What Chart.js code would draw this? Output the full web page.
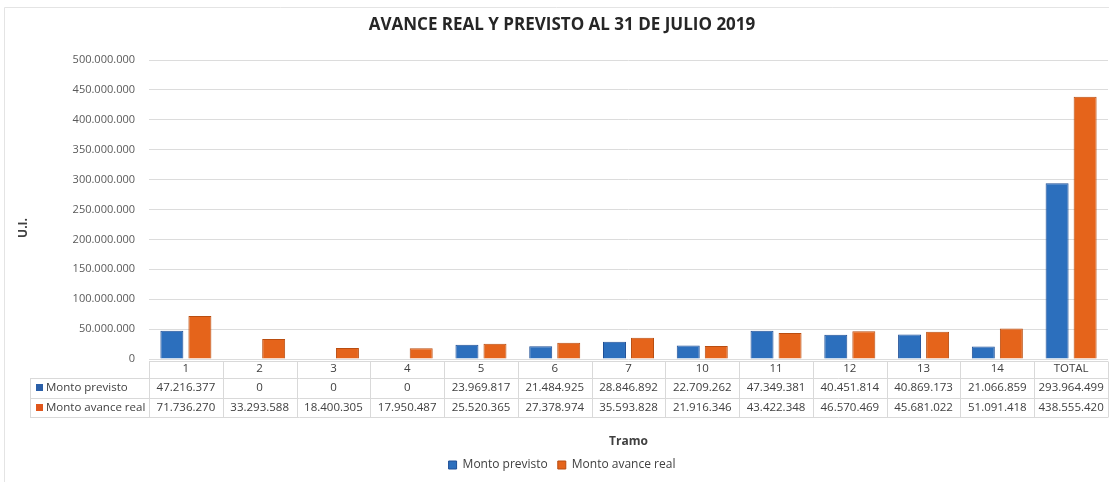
<!DOCTYPE html>
<html><head><meta charset="utf-8">
<script src="https://cdn.jsdelivr.net/npm/chart.js@4/dist/chart.umd.min.js"></script>
<style>html,body{margin:0;padding:0;background:#fff}</style>
</head><body>
<canvas id="c" width="1109" height="482"></canvas>
<script>
const chartTitle = 'AVANCE REAL Y PREVISTO AL 31 DE JULIO 2019';
const xTitle = 'Tramo';
const yTitle = 'U.I.';
const categories = ['1','2','3','4','5','6','7','10','11','12','13','14','TOTAL'];
const seriesNames = ['Monto previsto','Monto avance real'];
const montoPrevisto = [47216377, 0, 0, 0, 23969817, 21484925, 28846892, 22709262, 47349381, 40451814, 40869173, 21066859, 293964499];
const montoReal = [71736270, 33293588, 18400305, 17950487, 25520365, 27378974, 35593828, 21916346, 43422348, 46570469, 45681022, 51091418, 438555420];
const yMax = 500000000;
const yStep = 50000000;

function fmt(v){ return String(Math.round(v)).replace(/\B(?=(\d{3})+(?!\d))/g,'.'); }

const FONT = "'Open Sans', 'Noto Sans', sans-serif";
const TXT = '#404040';

const framePlugin = {
  id:'frame',
  beforeDraw(chart){
    const ctx = chart.ctx;
    ctx.save();
    ctx.fillStyle = '#fff';
    ctx.fillRect(0,0,chart.width,chart.height);
    ctx.strokeStyle = '#e4e4e4';
    ctx.lineWidth = 1;
    ctx.beginPath();
    ctx.moveTo(4.5, chart.height); ctx.lineTo(4.5, 7.5); ctx.lineTo(chart.width, 7.5);
    ctx.stroke();
    ctx.restore();
  }
};

const tablePlugin = {
  id:'dataTable',
  afterDraw(chart){
    const ctx = chart.ctx;
    const x = chart.scales.x;
    const top = chart.chartArea.top;
    const b = chart.chartArea.bottom;
    const n = categories.length;
    const step = x.getPixelForValue(1) - x.getPixelForValue(0);
    const left = x.getPixelForValue(0) - step/2;
    const right = x.getPixelForValue(n-1) + step/2;
    const tableLeft = 30;
    const r0 = Math.round(b+2)+0.5, r1 = Math.round(b+19)+0.5, r2 = Math.round(b+39)+0.5, r3 = Math.round(b+58)+0.5;
    const line = (x1,y1,x2,y2)=>{ctx.beginPath();ctx.moveTo(x1,y1);ctx.lineTo(x2,y2);ctx.stroke();};
    ctx.save();
    ctx.strokeStyle = '#d9d9d9'; ctx.lineWidth = 1;
    line(left, r0, right, r0);
    line(tableLeft, r1, right, r1);
    line(tableLeft, r2, right, r2);
    line(tableLeft, r3, right, r3);
    for (let i=0;i<=n;i++){ const xx = Math.round(left + i*step)+0.5; line(xx, r0, xx, r3); }
    line(tableLeft+0.5, r1, tableLeft+0.5, r3);
    ctx.fillStyle = TXT;
    ctx.font = "11.5px " + FONT;
    ctx.textAlign = 'center'; ctx.textBaseline = 'middle';
    categories.forEach((c,i)=> ctx.fillText(c, x.getPixelForValue(i), b+10));
    const rowsY = [b+29, b+49];
    const keyColors = ['#2a5fa8','#e0561c'];
    chart.data.datasets.forEach((ds,j)=>{
      const y = rowsY[j];
      ctx.textAlign = 'center';
      ds.data.forEach((v,i)=> ctx.fillText(fmt(v), x.getPixelForValue(i), y));
      ctx.fillStyle = keyColors[j];
      ctx.fillRect(36, Math.round(y-4), 7, 7);
      ctx.fillStyle = TXT;
      ctx.textAlign = 'left';
      ctx.fillText(ds.label, 46, y);
    });
    // y axis title
    ctx.save();
    ctx.translate(24, top + 168);
    ctx.rotate(-Math.PI/2);
    ctx.font = "bold 12px " + FONT;
    ctx.textAlign = 'center'; ctx.textBaseline = 'middle';
    ctx.fillText(yTitle, 0, 0);
    ctx.restore();
    ctx.restore();
  }
};

new Chart(document.getElementById('c'), {
  type:'bar',
  data:{
    labels: categories,
    datasets:[
      {label: seriesNames[0], data: montoPrevisto, backgroundColor:'#2c6fbd', borderColor:'#1f4f96', borderWidth:1, barPercentage:0.82, categoryPercentage:0.76},
      {label: seriesNames[1], data: montoReal, backgroundColor:'#e5641b', borderColor:'#b94d10', borderWidth:1, barPercentage:0.82, categoryPercentage:0.76}
    ]
  },
  options:{
    responsive:false,
    animation:false,
    devicePixelRatio:1,
    layout:{padding:{left:16, right:1, top:0, bottom:1}},
    plugins:{
      title:{display:true, text:chartTitle, color:'#262626', font:{family:FONT, size:17, weight:'bold'}, padding:{top:14.8, bottom:24.8}},
      legend:{position:'bottom', labels:{color:TXT, font:{family:FONT, size:12}, boxWidth:8, boxHeight:8, padding:10}},
      tooltip:{enabled:false}
    },
    scales:{
      x:{
        grid:{display:false},
        border:{display:false},
        ticks:{display:false},
        title:{display:true, text:xTitle, color:TXT, font:{family:FONT, size:12, weight:'bold'}, padding:{top:0, bottom:0}},
        afterFit(scale){ scale.height = 90; }
      },
      y:{
        min:0, max:yMax,
        grid:{color:'#dcdcdc', drawTicks:false},
        border:{display:false},
        ticks:{stepSize:yStep, padding:14, color:'#595959', font:{family:FONT, size:11}, callback:(v)=>fmt(v)},
        title:{display:false},
        afterFit(scale){ scale.width = 133; }
      }
    }
  },
  plugins:[framePlugin, tablePlugin]
});
</script>
</body></html>
